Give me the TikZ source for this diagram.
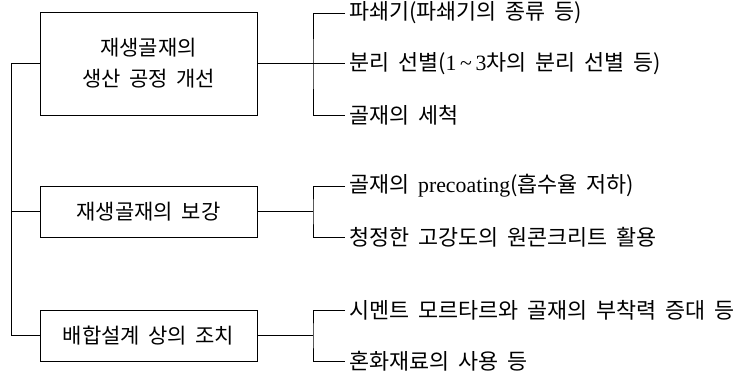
\documentclass[tikz,border=0pt]{standalone}
\usepackage{fontspec}
\setmainfont{Noto Sans CJK KR}[WordSpace=1.8]
\newfontfamily\lat{Liberation Serif}
\begin{document}
\begin{tikzpicture}[x=1pt,y=-1pt,
  box/.style={draw, line width=0.8pt, minimum width=217pt, align=center, inner sep=0pt, font=\fontsize{21}{31}\selectfont},
  item/.style={anchor=west, inner xsep=4pt, inner ysep=0pt, font=\fontsize{21.8}{24}\selectfont},
  ln/.style={line width=0.8pt}]
\useasboundingbox (0,0) rectangle (748,378);
\node[box, minimum height=103pt] (b1) at (148.5,63.5) {재생골재의\\생산 공정 개선};
\node[box, minimum height=51pt] (b2) at (148.5,211.5) {재생골재의 보강};
\node[box, minimum height=51pt] (b3) at (148.5,335.5) {배합설계 상의 조치};
\coordinate (k1) at (313,63.5);
\coordinate (k2) at (313,211.5);
\coordinate (k3) at (313,335.5);
\node[item] (t11) at (345,13) {파쇄기(파쇄기의 종류 등)};
\node[item] (t12) at (345,63.5) {분리 선별({\lat 1\,\~{}\,3}차의 분리 선별 등)};
\node[item] (t13) at (345,115) {골재의 세척};
\node[item] (t21) at (345,186) {골재의 {\lat precoating}(흡수율 저하)};
\node[item] (t22) at (345,237) {청정한 고강도의 원콘크리트 활용};
\node[item] (t31) at (345,310) {시멘트 모르타르와 골재의 부착력 증대 등};
\node[item] (t32) at (345,361) {혼화재료의 사용 등};
\draw[ln] (b1.west) -- ++(-28,0) |- (b3.west);
\draw[ln] (b2.west) -- ++(-28,0);
\draw[ln] (b1.east) -- (k1);
\draw[ln] (b2.east) -- (k2);
\draw[ln] (b3.east) -- (k3);
\draw[ln] (t11.west) -| (k1) |- (t13.west);
\draw[ln] (k1) -- (t12.west);
\draw[ln] (t21.west) -| (k2) |- (t22.west);
\draw[ln] (t31.west) -| (k3) |- (t32.west);
\end{tikzpicture}
\end{document}
